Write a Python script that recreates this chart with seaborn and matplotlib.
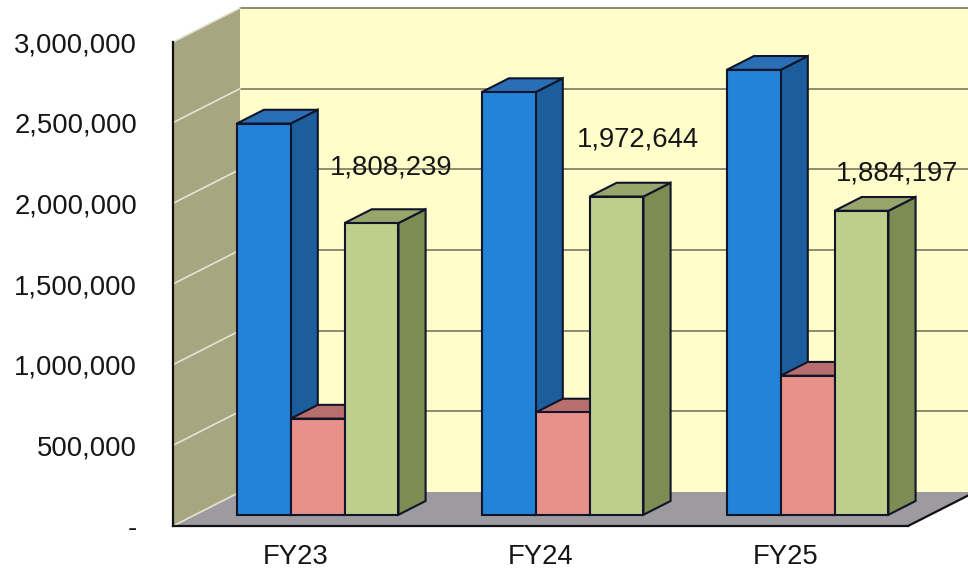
import numpy as np
import pandas as pd
import matplotlib
matplotlib.use("Agg")
import matplotlib.pyplot as plt
from matplotlib.patches import Polygon
from matplotlib.lines import Line2D
from matplotlib.transforms import Affine2D
from matplotlib.ticker import FuncFormatter, FixedLocator
import seaborn as sns

# ---- data -------------------------------------------------------------
years = ["FY23", "FY24", "FY25"]
series_names = ["Series 1", "Series 2", "Series 3"]
series1 = [2425000, 2620000, 2758000]
series2 = [596000, 634000, 862000]
series3 = [1808239, 1972644, 1884197]
y_ticks = [0, 500000, 1000000, 1500000, 2000000, 2500000, 3000000]

df = pd.DataFrame({
    "year": years * 3,
    "series": np.repeat(series_names, len(years)),
    "value": series1 + series2 + series3,
})

# ---- style ------------------------------------------------------------
sns.set_style("white")
plt.rcParams["font.family"] = ["Liberation Sans", "DejaVu Sans"]
text_color = "#161616"
fs = 19.8

front_col = ["#2383d8", "#e8908a", "#becf8b"]
side_col = ["#1c5e9c", "#b06a68", "#7d8c52"]
top_col = ["#2a6fb6", "#b86e6c", "#98a56b"]
edge_col = "#10152a"
edge_lw = 1.5

fig = plt.figure(figsize=(9.68, 5.74), dpi=100)
fig.patch.set_facecolor("white")
ax = fig.add_axes([173 / 968, 48 / 574, 735 / 968, 484 / 574])
ax.set_facecolor("none")

sns.barplot(data=df, x="year", y="value", hue="series", palette=front_col,
            width=0.66, gap=0, dodge=True, legend=False, saturation=1,
            errorbar=None, edgecolor=edge_col, linewidth=edge_lw, ax=ax)
bars = list(ax.patches)

ax.set_xlim(-0.5, 2.5)
ax.set_ylim(0, 3000000)

# oblique depth vector (67 px right, 34 px up) expressed in data units
inv = ax.transData.inverted()
p0 = inv.transform((0, 0))
p1 = inv.transform((67, 34))
ddx, ddy = p1 - p0


def P(x, y, f):
    return (x + f * ddx, y + f * ddy)


x_lo, x_hi = -0.5, 2.5
y_top = y_ticks[-1]

# walls and floor
ax.add_patch(Polygon([P(x_lo, 0, 1), P(x_hi, 0, 1), P(x_hi, y_top, 1), P(x_lo, y_top, 1)],
                     closed=True, facecolor="#fffdc9", edgecolor="none",
                     zorder=0.5, clip_on=False))
ax.add_patch(Polygon([P(x_lo, 0, 0), P(x_lo, y_top, 0), P(x_lo, y_top, 1), P(x_lo, 0, 1)],
                     closed=True, facecolor="#a8a681", edgecolor="none",
                     zorder=0.6, clip_on=False))
ax.add_patch(Polygon([P(x_lo, 0, 0), P(x_hi, 0, 0), P(x_hi, 0, 1), P(x_lo, 0, 1)],
                     closed=True, facecolor="#9d9b9f", edgecolor="none",
                     zorder=0.7, clip_on=False))
# right edge of the floor
ax.add_line(Line2D(*zip(P(x_hi, 0, 0), P(x_hi, 0, 1)), color="#111111", lw=1.6,
                   zorder=0.9, clip_on=False))

# gridlines on the back wall and the side wall
for v in y_ticks:
    if v > 0:
        ax.add_line(Line2D(*zip(P(x_lo, v, 1), P(x_hi, v, 1)), color="#85816b",
                           lw=1.3, zorder=0.8, clip_on=False))
    ax.add_line(Line2D(*zip(P(x_lo, v, 0), P(x_lo, v, 1)), color="#e4e4d4",
                       lw=1.2, zorder=0.8, clip_on=False))

# extrude the seaborn bars into boxes
f_front, f_back = 0.33, 0.735
shift = Affine2D().translate(f_front * ddx, f_front * ddy)
green_bars = []
for i, bar in enumerate(bars):
    k = i // len(years)
    x, w, h = bar.get_x(), bar.get_width(), bar.get_height()
    xr = x + w
    bar.set_transform(shift + ax.transData)
    bar.set_zorder(10 + 3 * k + 2)
    bar.set_clip_on(False)
    ax.add_patch(Polygon([P(xr, 0, f_front), P(xr, h, f_front), P(xr, h, f_back), P(xr, 0, f_back)],
                         closed=True, facecolor=side_col[k], edgecolor=edge_col,
                         lw=edge_lw, zorder=10 + 3 * k, clip_on=False))
    ax.add_patch(Polygon([P(x, h, f_front), P(xr, h, f_front), P(xr, h, f_back), P(x, h, f_back)],
                         closed=True, facecolor=top_col[k], edgecolor=edge_col,
                         lw=edge_lw, zorder=10 + 3 * k + 1, clip_on=False))
    if k == 2:
        green_bars.append(bar)

# value labels on the third series
label_dx = [20, 21, 36]
label_dy = [49, 50, 30]
for j, (bar, val) in enumerate(zip(green_bars, series3)):
    xc = bar.get_x() + bar.get_width() / 2
    ax.annotate(f"{val:,}", xy=P(xc, val, f_front), xytext=(label_dx[j], label_dy[j]),
                textcoords="offset pixels", ha="center", va="baseline",
                fontsize=fs, color=text_color, zorder=30, annotation_clip=False)

# axes
for s in ["top", "right"]:
    ax.spines[s].set_visible(False)
for s in ["left", "bottom"]:
    ax.spines[s].set_color("#111111")
    ax.spines[s].set_linewidth(1.6)
    ax.spines[s].set_zorder(5)

ax.yaxis.set_major_locator(FixedLocator(y_ticks))
ax.yaxis.set_major_formatter(FuncFormatter(lambda v, _: "-" if v == 0 else f"{v:,.0f}"))
ax.tick_params(axis="y", direction="out", length=6, width=1.3, pad=20,
               labelsize=fs, colors="#111111", labelcolor=text_color)

ax.set_xticks(range(len(years)))
ax.set_xticklabels(years)
ax.set_xticks([-0.5, 0.5, 1.5, 2.5], minor=True)
ax.tick_params(axis="x", which="major", length=0, pad=13, labelsize=fs, labelcolor=text_color)
ax.tick_params(axis="x", which="minor", direction="inout", length=12, width=1.2, colors="#111111")
ax.set_xlabel("")
ax.set_ylabel("")

fig.savefig("out.png", dpi=100)
